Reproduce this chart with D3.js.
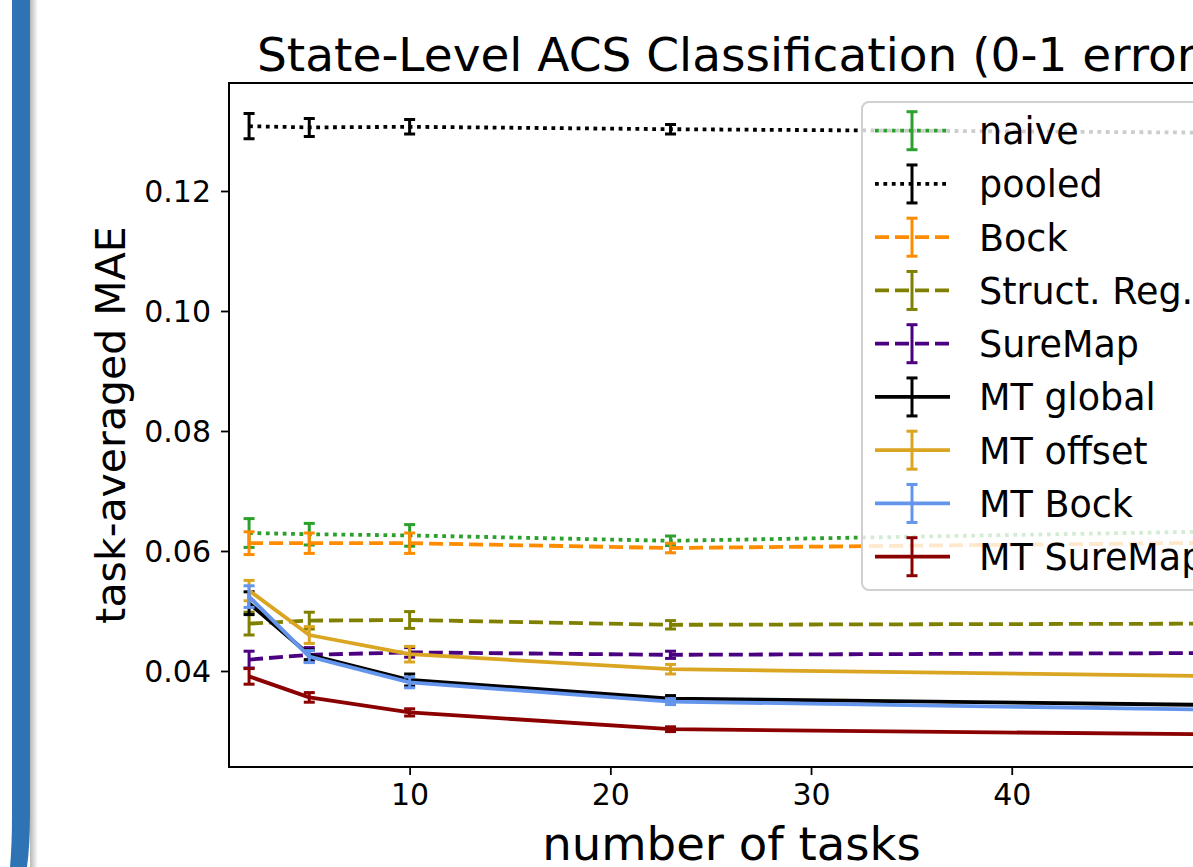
<!DOCTYPE html>
<html>
<head>
<meta charset="utf-8">
<script src="https://cdn.jsdelivr.net/npm/d3@7"></script>
<style>
  html, body { margin: 0; padding: 0; background: #ffffff; }
  svg { display: block; font-family: "DejaVu Sans", sans-serif; }
</style>
</head>
<body>
<svg id="chart" width="1193" height="867"></svg>
<script>
// ---------------- data ----------------
const tasks = [2, 5, 10, 23, 51];
const seriesNames = ["naive", "pooled", "Bock", "Struct. Reg.", "SureMap", "MT global", "MT offset", "MT Bock", "MT SureMap"];
const naive      = [0.0630, 0.0628, 0.0626, 0.0617, 0.0633];
const naiveErr   = [0.0024, 0.0018, 0.0018, 0.0008, 0.0005];
const pooled     = [0.1308, 0.1306, 0.1307, 0.1303, 0.1297];
const pooledErr  = [0.0021, 0.0015, 0.0012, 0.0008, 0.0005];
const bock       = [0.0613, 0.0613, 0.0613, 0.0605, 0.0614];
const bockErr    = [0.0019, 0.0017, 0.0017, 0.0008, 0.0005];
const structReg  = [0.0479, 0.0484, 0.0485, 0.0477, 0.0479];
const structErr  = [0.0019, 0.0014, 0.0014, 0.0007, 0.0004];
const sureMap    = [0.0419, 0.0427, 0.0431, 0.0427, 0.0430];
const sureMapErr = [0.0014, 0.0012, 0.0008, 0.0006, 0.0004];
const mtGlobal   = [0.0513, 0.0427, 0.0385, 0.0354, 0.0343];
const mtGlobalErr= [0.0019, 0.0008, 0.0010, 0.0005, 0.0003];
const mtOffset   = [0.0534, 0.0460, 0.0428, 0.0403, 0.0391];
const mtOffsetErr= [0.0017, 0.0014, 0.0013, 0.0008, 0.0004];
const mtBock     = [0.0524, 0.0424, 0.0381, 0.0349, 0.0335];
const mtBockErr  = [0.0018, 0.0010, 0.0009, 0.0005, 0.0003];
const mtSureMap  = [0.0391, 0.0356, 0.0331, 0.0303, 0.0294];
const mtSureMapErr=[0.0013, 0.0008, 0.0006, 0.0004, 0.0003];
const xTicks = [10, 20, 30, 40, 50];
const yTicks = [0.04, 0.06, 0.08, 0.10, 0.12];
const titleText = "State-Level ACS Classification (0-1 error)";
const xLabel = "number of tasks";
const yLabel = "task-averaged MAE";

// ---------------- styles ----------------
const styles = [
  {color: "#2ca02c", dash: "3.8,4.6"},
  {color: "#000000", dash: "3.8,4.6"},
  {color: "#ff8c00", dash: "14,6"},
  {color: "#808000", dash: "14,6"},
  {color: "#4b0082", dash: "14,6"},
  {color: "#000000", dash: null},
  {color: "#daa520", dash: null},
  {color: "#6495ed", dash: null},
  {color: "#8b0000", dash: null}
];
const values = [naive, pooled, bock, structReg, sureMap, mtGlobal, mtOffset, mtBock, mtSureMap];
const errors = [naiveErr, pooledErr, bockErr, structErr, sureMapErr, mtGlobalErr, mtOffsetErr, mtBockErr, mtSureMapErr];
const series = seriesNames.map((name, i) => ({
  name, ...styles[i],
  points: tasks.map((t, j) => ({x: t, y: values[i][j], e: errors[i][j]}))
}));

// ---------------- layout ----------------
const svg = d3.select("#chart");
const L = 229, T = 83, B = 767, R = 1232.5;
const x = d3.scaleLinear().domain([1, 51]).range([L, R]);
const y = d3.scaleLinear().domain([0.024, 0.138]).range([B, T]);
const LW = 3.8, EW = 3;

// decorative slide border on the left
const defs = svg.append("defs");
const grad = defs.append("linearGradient").attr("id", "shadow").attr("x1", "0").attr("x2", "1");
grad.append("stop").attr("offset", "0").attr("stop-color", "#000").attr("stop-opacity", 0.28);
grad.append("stop").attr("offset", "1").attr("stop-color", "#000").attr("stop-opacity", 0);
svg.append("rect").attr("x", 30).attr("y", 0).attr("width", 8).attr("height", 867).attr("fill", "url(#shadow)");
svg.append("path")
  .attr("d", "M12,0 L30,0 L30,815 Q30,845 27,867 L10,867 Q12,845 12,815 Z")
  .attr("fill", "#2e74b5");

const clip = defs.append("clipPath").attr("id", "plotclip");
clip.append("rect").attr("x", L).attr("y", T).attr("width", R - L).attr("height", B - T);

const plot = svg.append("g").attr("clip-path", "url(#plotclip)");
const line = d3.line().x(d => x(d.x)).y(d => y(d.y));

series.forEach(s => {
  const g = plot.append("g");
  g.append("path")
    .attr("d", line(s.points))
    .attr("fill", "none")
    .attr("stroke", s.color)
    .attr("stroke-width", LW)
    .attr("stroke-dasharray", s.dash)
    .attr("stroke-linejoin", "round");
  const eb = g.selectAll(".eb").data(s.points).enter().append("g");
  eb.append("line")
    .attr("x1", d => x(d.x)).attr("x2", d => x(d.x))
    .attr("y1", d => y(d.y - d.e)).attr("y2", d => y(d.y + d.e))
    .attr("stroke", s.color).attr("stroke-width", EW);
  [-1, 1].forEach(sg => {
    eb.append("line")
      .attr("x1", d => x(d.x) - 5.5).attr("x2", d => x(d.x) + 5.5)
      .attr("y1", d => y(d.y + sg * d.e)).attr("y2", d => y(d.y + sg * d.e))
      .attr("stroke", s.color).attr("stroke-width", EW);
  });
});

// ---------------- axes ----------------
const xAxis = d3.axisBottom(x).tickValues(xTicks).tickFormat(d3.format("d")).tickSize(8).tickPadding(8);
const yAxis = d3.axisLeft(y).tickValues(yTicks).tickFormat(d3.format(".2f")).tickSize(8).tickPadding(10);
const gx = svg.append("g").attr("transform", `translate(0,${B})`).call(xAxis);
const gy = svg.append("g").attr("transform", `translate(${L},0)`).call(yAxis);
[gx, gy].forEach(g => {
  g.select(".domain").remove();
  g.selectAll(".tick line").attr("stroke", "#000").attr("stroke-width", 1.8);
  g.selectAll(".tick text").attr("fill", "#000").style("font-size", "30px").style("font-family", "DejaVu Sans");
});
gy.selectAll(".tick text").attr("dy", "0.36em");
gx.selectAll(".tick text").attr("dy", "0.73em");

svg.append("rect")
  .attr("x", L).attr("y", T).attr("width", R - L).attr("height", B - T)
  .attr("fill", "none").attr("stroke", "#000").attr("stroke-width", 2);

// ---------------- legend ----------------
const lg = svg.append("g");
lg.append("rect")
  .attr("x", 862).attr("y", 102).attr("width", 400).attr("height", 488)
  .attr("rx", 7).attr("ry", 7)
  .attr("fill", "#ffffff").attr("fill-opacity", 0.8)
  .attr("stroke", "#d0d0d0").attr("stroke-width", 2);
const rowY = i => 130.7 + i * 53.25;
series.forEach((s, i) => {
  const cy = rowY(i);
  const g = lg.append("g");
  g.append("line").attr("x1", 875).attr("x2", 950).attr("y1", cy).attr("y2", cy)
    .attr("stroke", s.color).attr("stroke-width", LW).attr("stroke-dasharray", s.dash);
  g.append("line").attr("x1", 912).attr("x2", 912).attr("y1", cy - 19).attr("y2", cy + 19)
    .attr("stroke", s.color).attr("stroke-width", EW);
  [-19, 19].forEach(o => g.append("line").attr("x1", 906.5).attr("x2", 917.5)
    .attr("y1", cy + o).attr("y2", cy + o).attr("stroke", s.color).attr("stroke-width", EW));
  g.append("text").attr("x", 979).attr("y", cy + 13.5)
    .style("font-size", "36.5px").attr("fill", "#000").text(s.name);
});

// ---------------- titles ----------------
svg.append("text").attr("x", 257).attr("y", 71).attr("text-anchor", "start")
  .style("font-size", "47px").attr("fill", "#000").text(titleText);
svg.append("text").attr("x", 731.5).attr("y", 860).attr("text-anchor", "middle")
  .style("font-size", "46.6px").attr("fill", "#000").text(xLabel);
svg.append("text").attr("transform", `translate(125,${(T + B) / 2}) rotate(-90)`)
  .attr("text-anchor", "middle").style("font-size", "41px").attr("fill", "#000").text(yLabel);
</script>
</body>
</html>
